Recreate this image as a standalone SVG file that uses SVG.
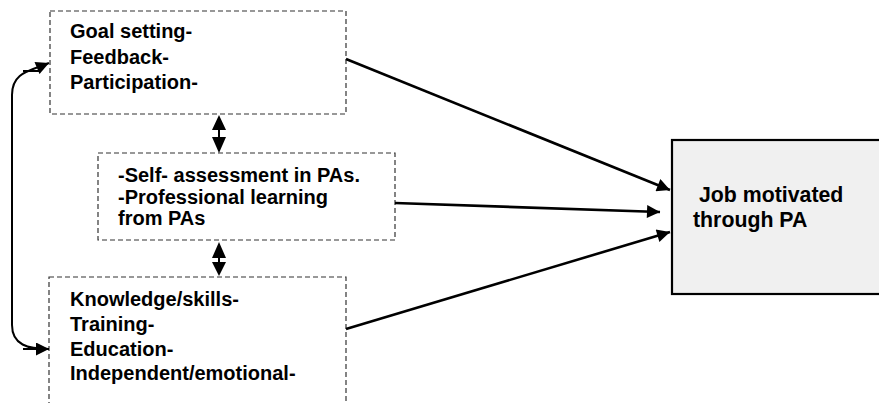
<svg xmlns="http://www.w3.org/2000/svg" width="879" height="403" viewBox="0 0 879 403">
<defs>
<style>
.box{fill:#fff;stroke:#333;stroke-width:1.2;stroke-dasharray:5 3}
.main{fill:#f0f0f0;stroke:#000;stroke-width:2.2}
.t{font-family:"Liberation Sans",Arial,sans-serif;font-weight:bold;font-size:20px;fill:#000}
.tj{font-family:"Liberation Sans",Arial,sans-serif;font-weight:bold;font-size:21.3px;fill:#000}
.c{fill:none;stroke:#000;stroke-width:2.6}
.c2{fill:none;stroke:#000;stroke-width:2}
.head{fill:#000}
</style>
<marker id="ah" viewBox="0 0 10 10" refX="10" refY="5" markerUnits="userSpaceOnUse" markerWidth="16" markerHeight="13" orient="auto-start-reverse">
<path d="M0,0 L10,5 L0,10 z" fill="#000"/>
</marker>
</defs>
<rect width="879" height="403" fill="#fff"/>
<g id="goal">
<rect class="box" x="50" y="11" width="296" height="103"/>
<text class="t" x="70" y="38">Goal setting-</text>
<text class="t" x="70" y="63.5">Feedback-</text>
<text class="t" x="70" y="89">Participation-</text>
</g>
<g id="self">
<rect class="box" x="98" y="153" width="297" height="87"/>
<text class="t" x="118" y="182">-Self- assessment in PAs.</text>
<text class="t" x="118" y="203.5">-Professional learning</text>
<text class="t" x="118" y="225">from PAs</text>
</g>
<g id="knowledge">
<rect class="box" x="49" y="277" width="297" height="140"/>
<text class="t" x="70" y="306">Knowledge/skills-</text>
<text class="t" x="70" y="330.5">Training-</text>
<text class="t" x="70" y="356">Education-</text>
<text class="t" x="70" y="380">Independent/emotional-</text>
</g>
<g id="job">
<rect class="main" x="672" y="140" width="215" height="154"/>
<text class="tj" x="699" y="202">Job motivated</text>
<text class="tj" x="693" y="227">through PA</text>
</g>
<g id="connectors">
<line class="c" x1="346" y1="59" x2="670" y2="190" marker-end="url(#ah)"/>
<line class="c" x1="395" y1="203" x2="660" y2="212" marker-end="url(#ah)"/>
<line class="c" x1="346" y1="329" x2="670" y2="232" marker-end="url(#ah)"/>
<path class="c2" d="M49,63 C30,71 12,72 12,95 L12,325 C12,345 28,349 49,349" marker-start="url(#ah)" marker-end="url(#ah)"/>
<line class="c2" x1="23" y1="71" x2="40" y2="71"/>
<line class="c2" x1="23" y1="349" x2="40" y2="349"/>
<g>
<line class="c2" x1="219" y1="128" x2="219" y2="140"/>
<path class="head" d="M219,115 L226,130 L212,130 z"/>
<path class="head" d="M219,153 L226,137 L212,137 z"/>
</g>
<g>
<line class="c2" x1="219" y1="256" x2="219" y2="264"/>
<path class="head" d="M219,242 L226,258 L212,258 z"/>
<path class="head" d="M219,276 L226,262 L212,262 z"/>
</g>
</g>
</svg>
